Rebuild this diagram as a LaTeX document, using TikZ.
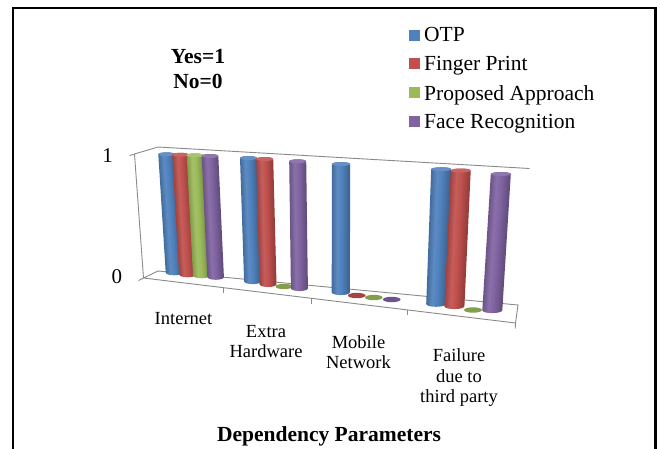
\documentclass[tikz,border=0pt]{standalone}
\usepackage{fontspec}
\setmainfont{Liberation Serif}
\usetikzlibrary{calc}

\definecolor{otp}{HTML}{4F81BD}
\definecolor{fprint}{HTML}{C0504D}
\definecolor{propo}{HTML}{9BBB59}
\definecolor{facer}{HTML}{8064A2}
\definecolor{axisgray}{HTML}{8A8A8A}
\colorlet{cylc}{otp}

% soft left-to-right light falloff across a cylinder body
% (TikZ fits the 25bp..75bp band of a shading to the path)
\pgfdeclarehorizontalshading[cylc]{cylshade}{100bp}{%
  color(0bp)=(cylc!84!black);
  color(25bp)=(cylc!84!black);
  color(40bp)=(cylc!92!white);
  color(52bp)=(cylc);
  color(75bp)=(cylc!74!black);
  color(100bp)=(cylc!74!black)}

% cylinder: colour, top centre x, top centre y, bottom centre x, bottom centre y, half width
% drawn upright and sheared so that it leans like the perspective verticals
\newcommand\cylbar[6]{%
  \colorlet{cylc}{#1}%
  \pgfmathsetmacro\cylheight{#5-#3}%
  \pgfmathsetmacro\cylshear{(#2-#4)/(#5-#3)}%
  \begin{scope}[transform canvas={shift={(#4,#5)}, cm={1,0,\cylshear,1,(0,0)}}]
    \shade[shading=cylshade]
      (-#6,0) arc[start angle=180, end angle=360, x radius=#6pt, y radius=2.8pt]
      -- (#6,-\cylheight)
      arc[start angle=0, end angle=180, x radius=#6pt, y radius=2pt] -- cycle;
    \fill[#1!88!white] (0,-\cylheight) ellipse[x radius=#6pt, y radius=2pt];
  \end{scope}
}
% flat disc for a zero value: colour, centre x, centre y, half width
\newcommand\zerodisc[4]{%
  \fill[#1!85!black] (#2,#3) ellipse[x radius=#4pt, y radius=2.7pt];
}

\begin{document}
\begin{tikzpicture}[x=1pt, y=-1pt,
  wall/.style={draw=axisgray, line width=0.9pt},
  legtext/.style={anchor=base west, inner sep=0pt, font=\fontsize{21.5}{25}\selectfont},
  catlabel/.style={anchor=base, inner sep=0pt, font=\fontsize{18.5}{20.6}\selectfont},
  boldtext/.style={anchor=base, inner sep=0pt, font=\fontsize{21.5}{25}\selectfont\bfseries},
  numlabel/.style={anchor=base, inner sep=0pt, font=\fontsize{21}{25}\selectfont},
  keybox/.style={inner sep=0pt, minimum size=11pt}]
\useasboundingbox (0,0) rectangle (660,448);
\fill[white] (0,0) rectangle (660,448);

% outer frame (open at the bottom)
\draw[line width=2.3pt] (13,455) -- (13,7.7) -- (655.5,7.7) -- (655.5,455);

% walls and floor of the 3-D plot area
\coordinate (wfl) at (134.5,154);
\coordinate (wbl) at (158,147);
\coordinate (wbr) at (529.5,168.5);
\coordinate (ffl) at (143.5,278);
\coordinate (fbl) at (158,271);
\coordinate (fbr) at (518,305);
\coordinate (ffr) at (515.5,323);
\draw[wall] (wfl) -- (wbl) -- (wbr);
\draw[wall] (wfl) -- (ffl);
\draw[wall] (ffl) -- (fbl) -- (fbr) -- (ffr) -- (ffl);
\draw[wall] (ffr) -- ++(-0.3,5.5);
\foreach \t in {0.2137,0.4503,0.7083}
  \draw[wall] ($(ffl)!\t!(ffr)$) -- ++(0,5.5);
\draw[wall] (wfl) -- ++(-5,1.5);
\draw[wall] (ffl) -- ++(-5,2.5);

% value axis labels
\node[numlabel] (one) at (107.5,162) {1};
\node[numlabel] (zero) at (116.8,283) {0};

% Internet
\cylbar{otp}{166.6}{154.3}{174.0}{272.5}{8.3}
\cylbar{fprint}{180.5}{154.8}{187.4}{274.5}{8.3}
\cylbar{propo}{195}{155.3}{201.3}{275.5}{8.3}
\cylbar{facer}{210}{156}{215.6}{277}{8.3}

% Extra Hardware
\cylbar{otp}{248.5}{158}{252.6}{281.3}{8.5}
\cylbar{fprint}{264.7}{159}{268}{284.2}{8.5}
\zerodisc{propo}{284}{286.5}{8.5}
\cylbar{facer}{297.7}{161.3}{299.4}{288.3}{8.5}

% Mobile Network
\cylbar{otp}{341}{164}{340.8}{292.3}{9.1}
\zerodisc{fprint}{356.7}{295.5}{8.8}
\zerodisc{propo}{373.8}{297.5}{8.8}
\zerodisc{facer}{391.7}{299.5}{8.8}

% Failure due to third party
\cylbar{otp}{441.2}{169.2}{436.2}{304}{10}
\cylbar{fprint}{460.7}{170.5}{454.4}{306.3}{10}
\zerodisc{propo}{473}{310}{9}
\cylbar{facer}{500.8}{174}{492.3}{310.3}{10}

% category labels
\node[catlabel] (cat1) at (183.5,324.3) {Internet};
\node[catlabel] (cat2) at (266,337) {\begin{tabular}[t]{@{}c@{}}Extra\\Hardware\end{tabular}};
\node[catlabel] (cat3) at (358.5,348.3) {\begin{tabular}[t]{@{}c@{}}Mobile\\Network\end{tabular}};
\node[catlabel] (cat4) at (459,361.7) {\begin{tabular}[t]{@{}c@{}}Failure\\due to\\third party\end{tabular}};

% axis title and value key
\node[boldtext] (title) at (329,441.5) {Dependency Parameters};
\node[boldtext] (yesno) at (198,63) {\begin{tabular}[t]{@{}c@{}}Yes=1\\No=0\end{tabular}};

% legend
\node[keybox, fill=otp] (k1) at (414.5,35.5) {};
\node[keybox, fill=fprint] (k2) at (414.5,63.5) {};
\node[keybox, fill=propo] (k3) at (414.5,92.5) {};
\node[keybox, fill=facer] (k4) at (414.5,121.5) {};
\node[legtext] (l1) at (424,41.7) {OTP};
\node[legtext] (l2) at (424,70.7) {Finger Print};
\node[legtext] (l3) at (424,100) {Proposed Approach};
\node[legtext] (l4) at (424,128.5) {Face Recognition};
\end{tikzpicture}
\end{document}
